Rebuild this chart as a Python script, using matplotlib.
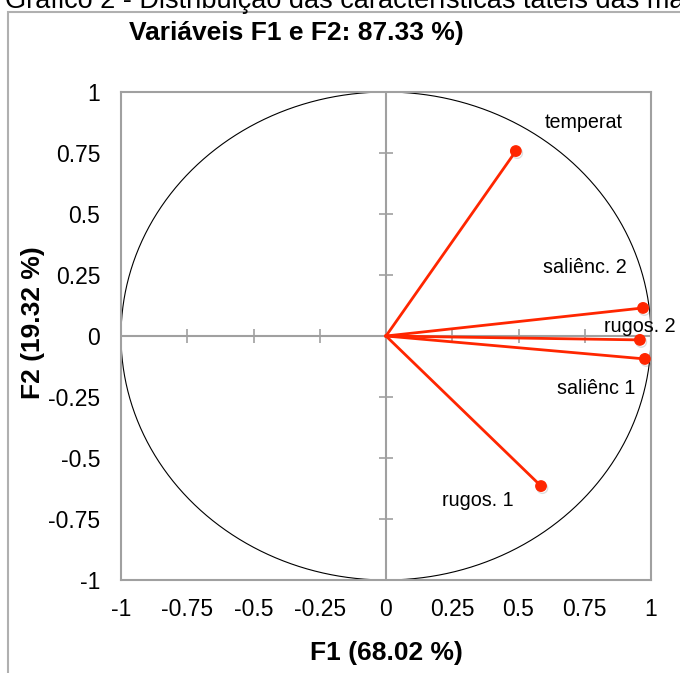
import numpy as np
import matplotlib.pyplot as plt
import matplotlib.patheffects as pe

plt.rcParams['font.family'] = ['Liberation Sans', 'DejaVu Sans']

# variable loadings on F1 / F2
names = ['temperat', 'saliênc. 2', 'rugos. 2', 'saliênc 1', 'rugos. 1']
f1 = [0.49, 0.97, 0.958, 0.977, 0.585]
f2 = [0.758, 0.115, -0.016, -0.094, -0.615]

# where each label sits (data coords)
label_pos = [(0.747, 0.873), (0.751, 0.279), (0.956, 0.037), (0.792, -0.217), (0.347, -0.676)]

ticks = np.arange(-1, 1.01, 0.25)
tick_labels = ['-1', '-0.75', '-0.5', '-0.25', '0', '0.25', '0.5', '0.75', '1']

red = '#ff2600'
grey = '#a0a0a0'

fig = plt.figure(figsize=(6.8, 6.73), dpi=100)
ax = fig.add_axes([121/680, 93/673, 530/680, 488/673])

# unit circle
t = np.linspace(0, 2*np.pi, 400)
ax.plot(np.cos(t), np.sin(t), color='black', lw=0.8, zorder=2)

# central axes with cross ticks
ax.axhline(0, color=grey, lw=1.5, zorder=1)
ax.axvline(0, color=grey, lw=1.5, zorder=1)
ax.plot(ticks, np.zeros_like(ticks), ls='none', marker='|', ms=10, mew=1.2, color=grey, zorder=1)
ax.plot(np.zeros_like(ticks), ticks, ls='none', marker='_', ms=10, mew=1.2, color=grey, zorder=1)

for i in range(len(names)):
    ax.plot([0, f1[i]], [0, f2[i]], color=red, lw=2, zorder=3)
    ax.plot(f1[i], f2[i], 'o', color=red, ms=7.5, zorder=4,
            path_effects=[pe.SimpleLineShadow(offset=(1, -1.5), alpha=0.2, shadow_color='#555555'),
                          pe.Normal()])
    ax.text(label_pos[i][0], label_pos[i][1], names[i], fontsize=14.2,
            ha='center', va='center', zorder=5)

ax.set_xlim(-1, 1)
ax.set_ylim(-1, 1)
ax.set_xticks(ticks)
ax.set_yticks(ticks)
ax.set_xticklabels(tick_labels)
ax.set_yticklabels(tick_labels)
ax.tick_params(length=0, labelsize=16.5, pad=13)
ax.tick_params(axis='y', pad=15)
for s in ax.spines.values():
    s.set_color(grey)
    s.set_linewidth(1.5)

ax.set_xlabel('F1 (68.02 %)', fontsize=19, fontweight='bold')
ax.set_ylabel('F2 (19.32 %)', fontsize=19, fontweight='bold')
ax.xaxis.set_label_coords(0.5, -0.125)
ax.yaxis.set_label_coords(-0.143, 0.527)

fig.text(296/680, 1 - 33/673, 'Variáveis F1 e F2: 87.33 %)', fontsize=19,
         fontweight='bold', ha='center', va='center')
fig.text(5/680, 1 - 8/673, 'Gráfico 2 - Distribuição das características táteis das mangas',
         fontsize=19.5, ha='left', va='baseline')

# outer frame (cut off at right / bottom)
fig.patches.append(plt.Rectangle((8/680, -0.1), 2, 1.1 - 12/673, transform=fig.transFigure,
                                 fill=False, edgecolor='#b0b0b0', lw=1.5))

fig.savefig('out.png', dpi=100)
